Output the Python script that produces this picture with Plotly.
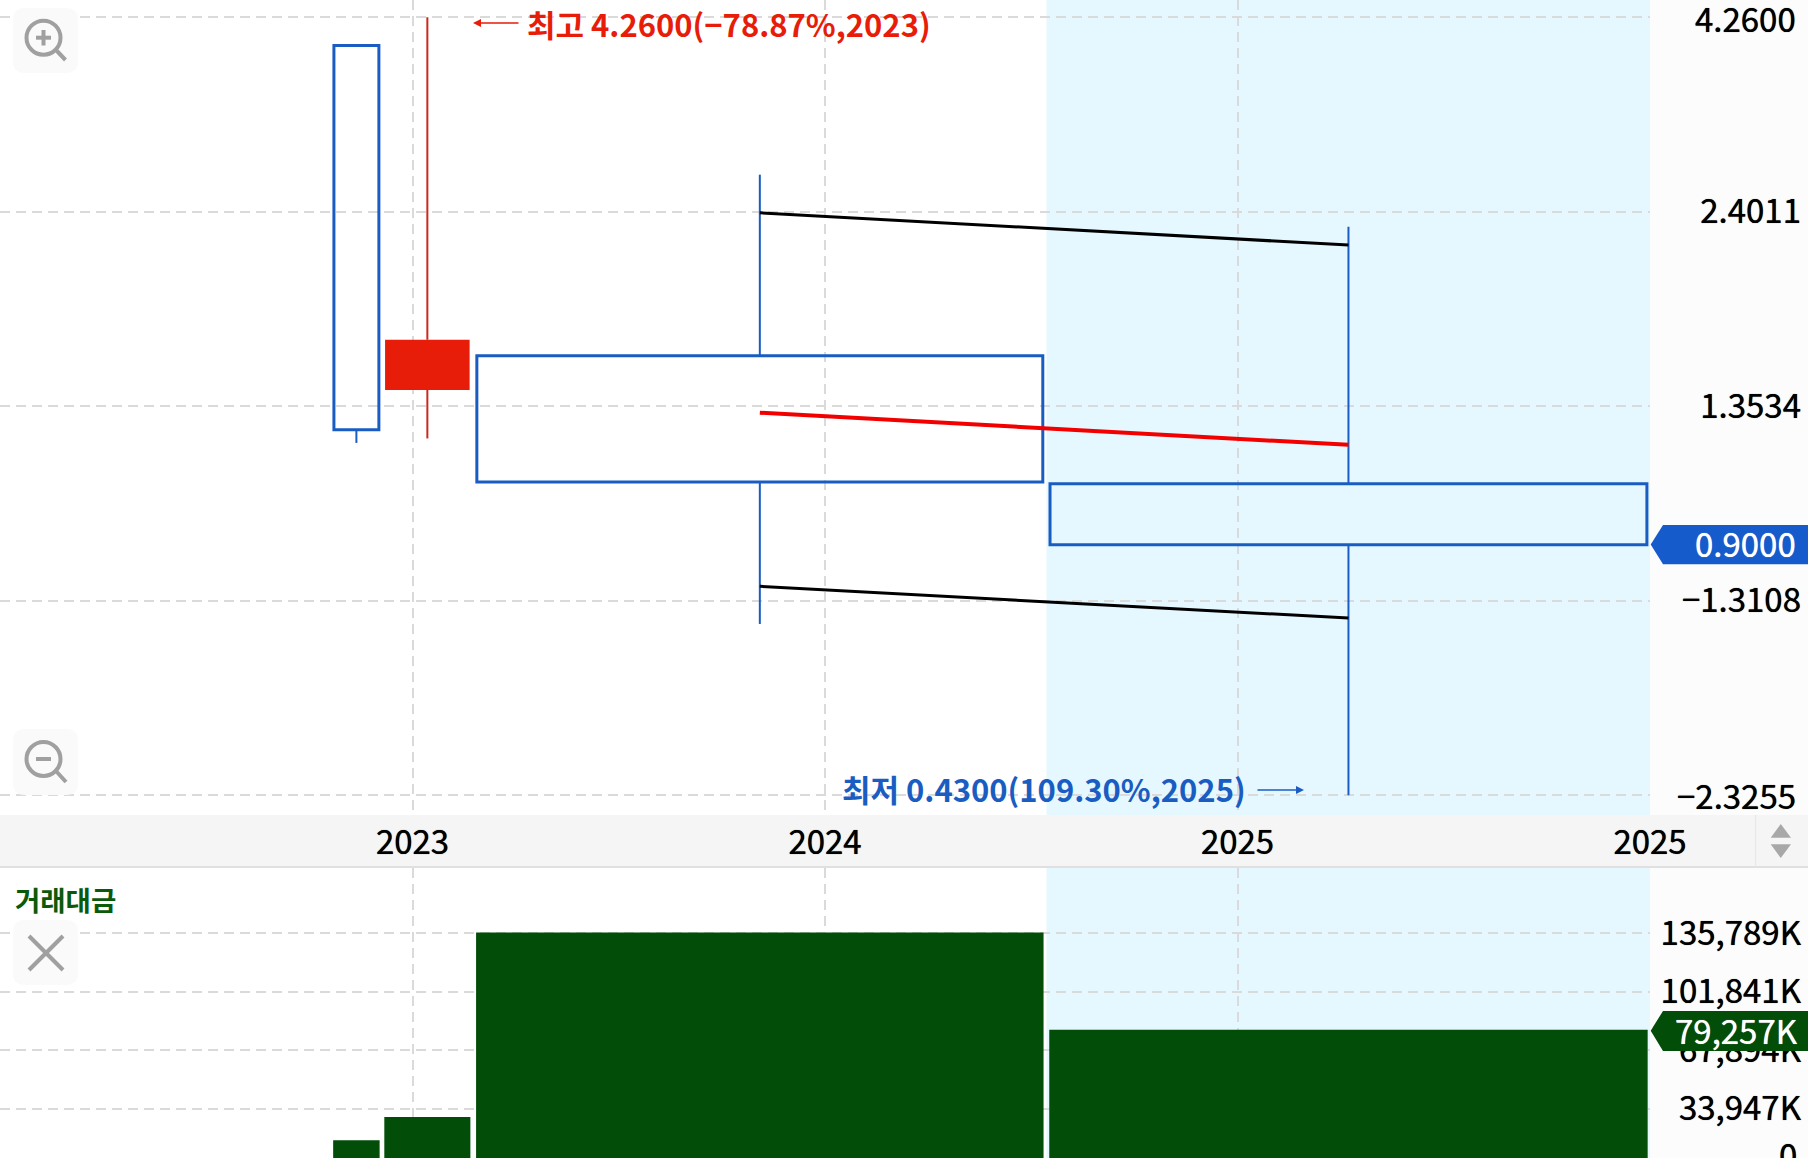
import plotly.graph_objects as go

W, H = 1811, 1158
BLUE = "#1A5DC2"
RED = "#E71D0A"
GREEN = "#024D08"
SKY = "#E5F8FF"
GRID = "#DADADA"
FONT = "Noto Sans CJK KR"

# period positions (in tick units) and widths
period_pos = [0.864, 1.036, 1.842, 3.269]
period_width = [0.109, 0.205, 1.372, 1.447]
opens = [3.92, 1.42, 1.571, 1.077]
closes = [1.263, 1.647, 1.083, 0.90]
highs = [3.92, 4.26, 2.679, 2.298]
lows = [1.215, 1.231, 0.7125, 0.43]
is_up = [False, True, False, False]
body_fill = ["rgba(0,0,0,0)", RED, "rgba(0,0,0,0)", "rgba(0,0,0,0)"]
volume = [15055, 28600, 135789, 79257]

line_x = [1.842, 3.269]
upper_band = [2.394, 2.177]
middle_band = [1.328, 1.208]
lower_band = [0.796, 0.725]

price_ticks = [4.26, 2.4011, 1.3534, 0.7628, 0.43]
price_labels = ["4.2600", "2.4011", "1.3534", "−1.3108", "−2.3255"]
vol_ticks = [135789, 101841, 67894, 33947]
vol_labels = ["135,789K", "101,841K", "67,894K", "33,947K"]
x_ticks = [1, 2, 3, 4]
x_labels = ["2023", "2024", "2025", "2025"]
sky_start = 2.537


def X(px):
    return px / W


def Y(py):
    return 1 - py / H


def poly(points, **kw):
    d = "M" + " L".join(f"{X(a):.5f},{Y(b):.5f}" for a, b in points) + " Z"
    return dict(type="path", path=d, xref="paper", yref="paper", layer="above", **kw)


def seg(x0, y0, x1, y1, color="#A0A0A0", width=4):
    return dict(type="line", xref="paper", yref="paper", layer="above",
                x0=X(x0), y0=Y(y0), x1=X(x1), y1=Y(y1),
                line=dict(color=color, width=width))


def round_box(x0, y0, x1, y1, r=12):
    pts = (f"M{X(x0+r):.5f},{Y(y0):.5f} L{X(x1-r):.5f},{Y(y0):.5f} Q{X(x1):.5f},{Y(y0):.5f} {X(x1):.5f},{Y(y0+r):.5f} "
           f"L{X(x1):.5f},{Y(y1-r):.5f} Q{X(x1):.5f},{Y(y1):.5f} {X(x1-r):.5f},{Y(y1):.5f} "
           f"L{X(x0+r):.5f},{Y(y1):.5f} Q{X(x0):.5f},{Y(y1):.5f} {X(x0):.5f},{Y(y1-r):.5f} "
           f"L{X(x0):.5f},{Y(y0+r):.5f} Q{X(x0):.5f},{Y(y0):.5f} {X(x0+r):.5f},{Y(y0):.5f} Z")
    return dict(type="path", path=pts, xref="paper", yref="paper", layer="above",
                fillcolor="#FAFAFA", line=dict(width=0))


def circle(cx, cy, r):
    return dict(type="circle", xref="paper", yref="paper", layer="above",
                x0=X(cx - r), x1=X(cx + r), y0=Y(cy + r), y1=Y(cy - r),
                line=dict(color="#A0A0A0", width=4))


fig = go.Figure()

# candle bodies
fig.add_trace(go.Bar(
    x=period_pos, width=period_width,
    base=[min(o, c) for o, c in zip(opens, closes)],
    y=[abs(o - c) for o, c in zip(opens, closes)],
    marker=dict(color=body_fill,
                line=dict(color=[RED if u else BLUE for u in is_up],
                          width=[0 if u else 3 for u in is_up])),
    xaxis="x", yaxis="y", showlegend=False))

# wicks
for up, col in [(False, BLUE), (True, "#C92A1E")]:
    xs, ys = [], []
    for p, o, c, h, l, u in zip(period_pos, opens, closes, highs, lows, is_up):
        if u != up:
            continue
        top, bot = max(o, c), min(o, c)
        xs += [p, p, None, p, p, None]
        ys += [h, top, None, bot, l, None]
    fig.add_trace(go.Scatter(x=xs, y=ys, mode="lines", line=dict(color=col, width=2),
                             xaxis="x", yaxis="y", showlegend=False))

# band lines
for vals, col, wd in [(upper_band, "#000000", 3), (lower_band, "#000000", 3), (middle_band, "#F20000", 4)]:
    fig.add_trace(go.Scatter(x=line_x, y=vals, mode="lines", line=dict(color=col, width=wd),
                             xaxis="x", yaxis="y", showlegend=False))

# volume bars
fig.add_trace(go.Bar(x=period_pos, width=period_width, y=volume,
                     marker=dict(color=GREEN, line=dict(color=GREEN, width=1.5)),
                     xaxis="x2", yaxis="y2", showlegend=False))

# carriers for the right-hand label axes
fig.add_trace(go.Scatter(x=[1], y=[1], mode="none", xaxis="x", yaxis="y3", showlegend=False, hoverinfo="skip"))
fig.add_trace(go.Scatter(x=[1], y=[50000], mode="none", xaxis="x2", yaxis="y4", showlegend=False, hoverinfo="skip"))

main_range = [-0.3918, 0.6516]
vol_range = [5173, 173750]
tick_font = dict(family=FONT, size=33, color="#000000", shadow="0 0 0.7px #000000")
label_pos = 1804 / W

shapes = [
    # panels
    dict(type="rect", xref="paper", yref="paper", layer="below", x0=X(1650), x1=X(1808), y0=0, y1=1,
         fillcolor="#FCFCFC", line=dict(width=0)),
    dict(type="rect", xref="x", yref="paper", layer="below", x0=sky_start, x1=4, y0=Y(815), y1=1,
         fillcolor=SKY, line=dict(width=0)),
    dict(type="rect", xref="x", yref="paper", layer="below", x0=sky_start, x1=4, y0=0, y1=Y(868),
         fillcolor=SKY, line=dict(width=0)),
    dict(type="rect", xref="paper", yref="paper", layer="below", x0=0, x1=X(1808), y0=Y(867), y1=Y(815),
         fillcolor="#F5F5F5", line=dict(width=0)),
    dict(type="line", xref="paper", yref="paper", layer="below", x0=0, x1=X(1808), y0=Y(867), y1=Y(867),
         line=dict(color="#E0E0E0", width=2)),
    dict(type="line", xref="paper", yref="paper", layer="below", x0=X(1755.7), x1=X(1755.7), y0=Y(867), y1=Y(815),
         line=dict(color="#E4E4E4", width=1)),
    poly([(1770.7, 837.7), (1780.8, 824), (1791, 837.7)], fillcolor="#A8A8A8", line=dict(width=0)),
    poly([(1770.7, 844.3), (1791, 844.3), (1780.8, 858)], fillcolor="#A8A8A8", line=dict(width=0)),
    # value tags
    poly([(1650.7, 544.5), (1663, 525), (1808, 525), (1808, 564.3), (1663, 564.3)],
         fillcolor="#155BCB", line=dict(width=0)),
    poly([(1650.7, 1030.7), (1663, 1011), (1808, 1011), (1808, 1051), (1663, 1051)],
         fillcolor=GREEN, line=dict(width=0)),
    # zoom-in button
    round_box(13, 8, 78, 73),
    circle(43.5, 37.7, 17),
    seg(36, 37.7, 51, 37.7), seg(43.5, 30, 43.5, 45.5), seg(56, 50, 65.5, 60),
    # zoom-out button
    round_box(13, 729, 78, 795),
    circle(43.5, 759, 17),
    seg(36, 759, 51, 759), seg(56, 771, 66, 782),
    # close button
    round_box(13, 920, 78, 985),
    seg(29, 936, 63, 970), seg(63, 936, 29, 970),
]


def label(text, px, py, color, size=33, anchor="right", weight=None, shadow=None):
    font = dict(family=FONT, size=size, color=color)
    if weight:
        font["weight"] = weight
    if shadow:
        font["shadow"] = f"0 0 {shadow}px {color}"
    return dict(text=text, xref="paper", yref="paper", x=X(px), y=Y(py), showarrow=False,
                xanchor=anchor, yanchor="middle", font=font)


def arrow(tip_x, tail_x, py, color):
    return dict(text="", xref="paper", yref="paper", axref="pixel", ayref="pixel",
                x=X(tip_x), y=Y(py), ax=tail_x - tip_x, ay=0, showarrow=True,
                arrowhead=2, arrowsize=1, arrowwidth=1.6, arrowcolor=color)


annotations = [
    label("4.2600", 1798, 18, "#000000", shadow=0.7),
    label("−2.3255", 1798, 795, "#000000", shadow=0.7),
    label("0.9000", 1798, 543, "#FFFFFF", shadow=0.7),
    label("79,257K", 1800, 1030, "#FFFFFF", shadow=0.7),
    label("0", 1799, 1154, "#000000", shadow=0.7),
    label("최고 4.2600(−78.87%,2023)", 525, 23, RED, size=31, anchor="left", weight=700),
    label("최저 0.4300(109.30%,2025)", 840, 788, BLUE, size=31, anchor="left", weight=700),
    arrow(473, 520, 23, RED),
    arrow(1304, 1256, 790, BLUE),
    label("거래대금", 13, 899, "#0A5A0A", size=27.5, anchor="left", weight=700),
]

grid = dict(showgrid=True, gridcolor=GRID, griddash="10px,6px", gridwidth=1.5,
            zeroline=False, showline=False, automargin=False)
plain = dict(showgrid=False, zeroline=False, showline=False, automargin=False)

fig.update_layout(
    width=W, height=H, autosize=False,
    margin=dict(l=0, r=0, t=0, b=0, autoexpand=False),
    paper_bgcolor="#FFFFFF", plot_bgcolor="rgba(0,0,0,0)",
    barmode="overlay", showlegend=False,
    font=dict(family=FONT),
    shapes=shapes, annotations=annotations,
    xaxis=dict(domain=[0, 1650 / W], range=[0, 4], anchor="y", tickmode="array",
               tickvals=x_ticks, ticktext=x_labels, tickfont=tick_font,
               ticks="", ticklabelstandoff=5, **grid),
    xaxis2=dict(domain=[0, 1650 / W], range=[0, 4], anchor="y2", tickmode="array",
                tickvals=x_ticks, showticklabels=False, ticks="", **grid),
    yaxis=dict(domain=[Y(815), 1], type="log", range=main_range, anchor="x", side="right",
               tickmode="array", tickvals=price_ticks, showticklabels=False, ticks="", **grid),
    yaxis2=dict(domain=[0, Y(868)], range=vol_range, anchor="x2", side="right",
                tickmode="array", tickvals=vol_ticks, showticklabels=False, ticks="", **grid),
    yaxis3=dict(domain=[Y(815), 1], type="log", range=main_range, overlaying="y", anchor="free",
                position=label_pos, side="right", ticklabelposition="inside",
                tickmode="array", tickvals=price_ticks,
                ticktext=price_labels, tickfont=tick_font, ticks="", **plain),
    yaxis4=dict(domain=[0, Y(868)], range=vol_range, overlaying="y2", anchor="free",
                position=label_pos, side="right", ticklabelposition="inside",
                tickmode="array", tickvals=vol_ticks,
                ticktext=vol_labels, tickfont=tick_font, ticks="", **plain),
)

fig.write_html("out.html", config=dict(displayModeBar=False),
               post_script="document.body.style.margin='0';document.body.style.overflow='hidden';")
